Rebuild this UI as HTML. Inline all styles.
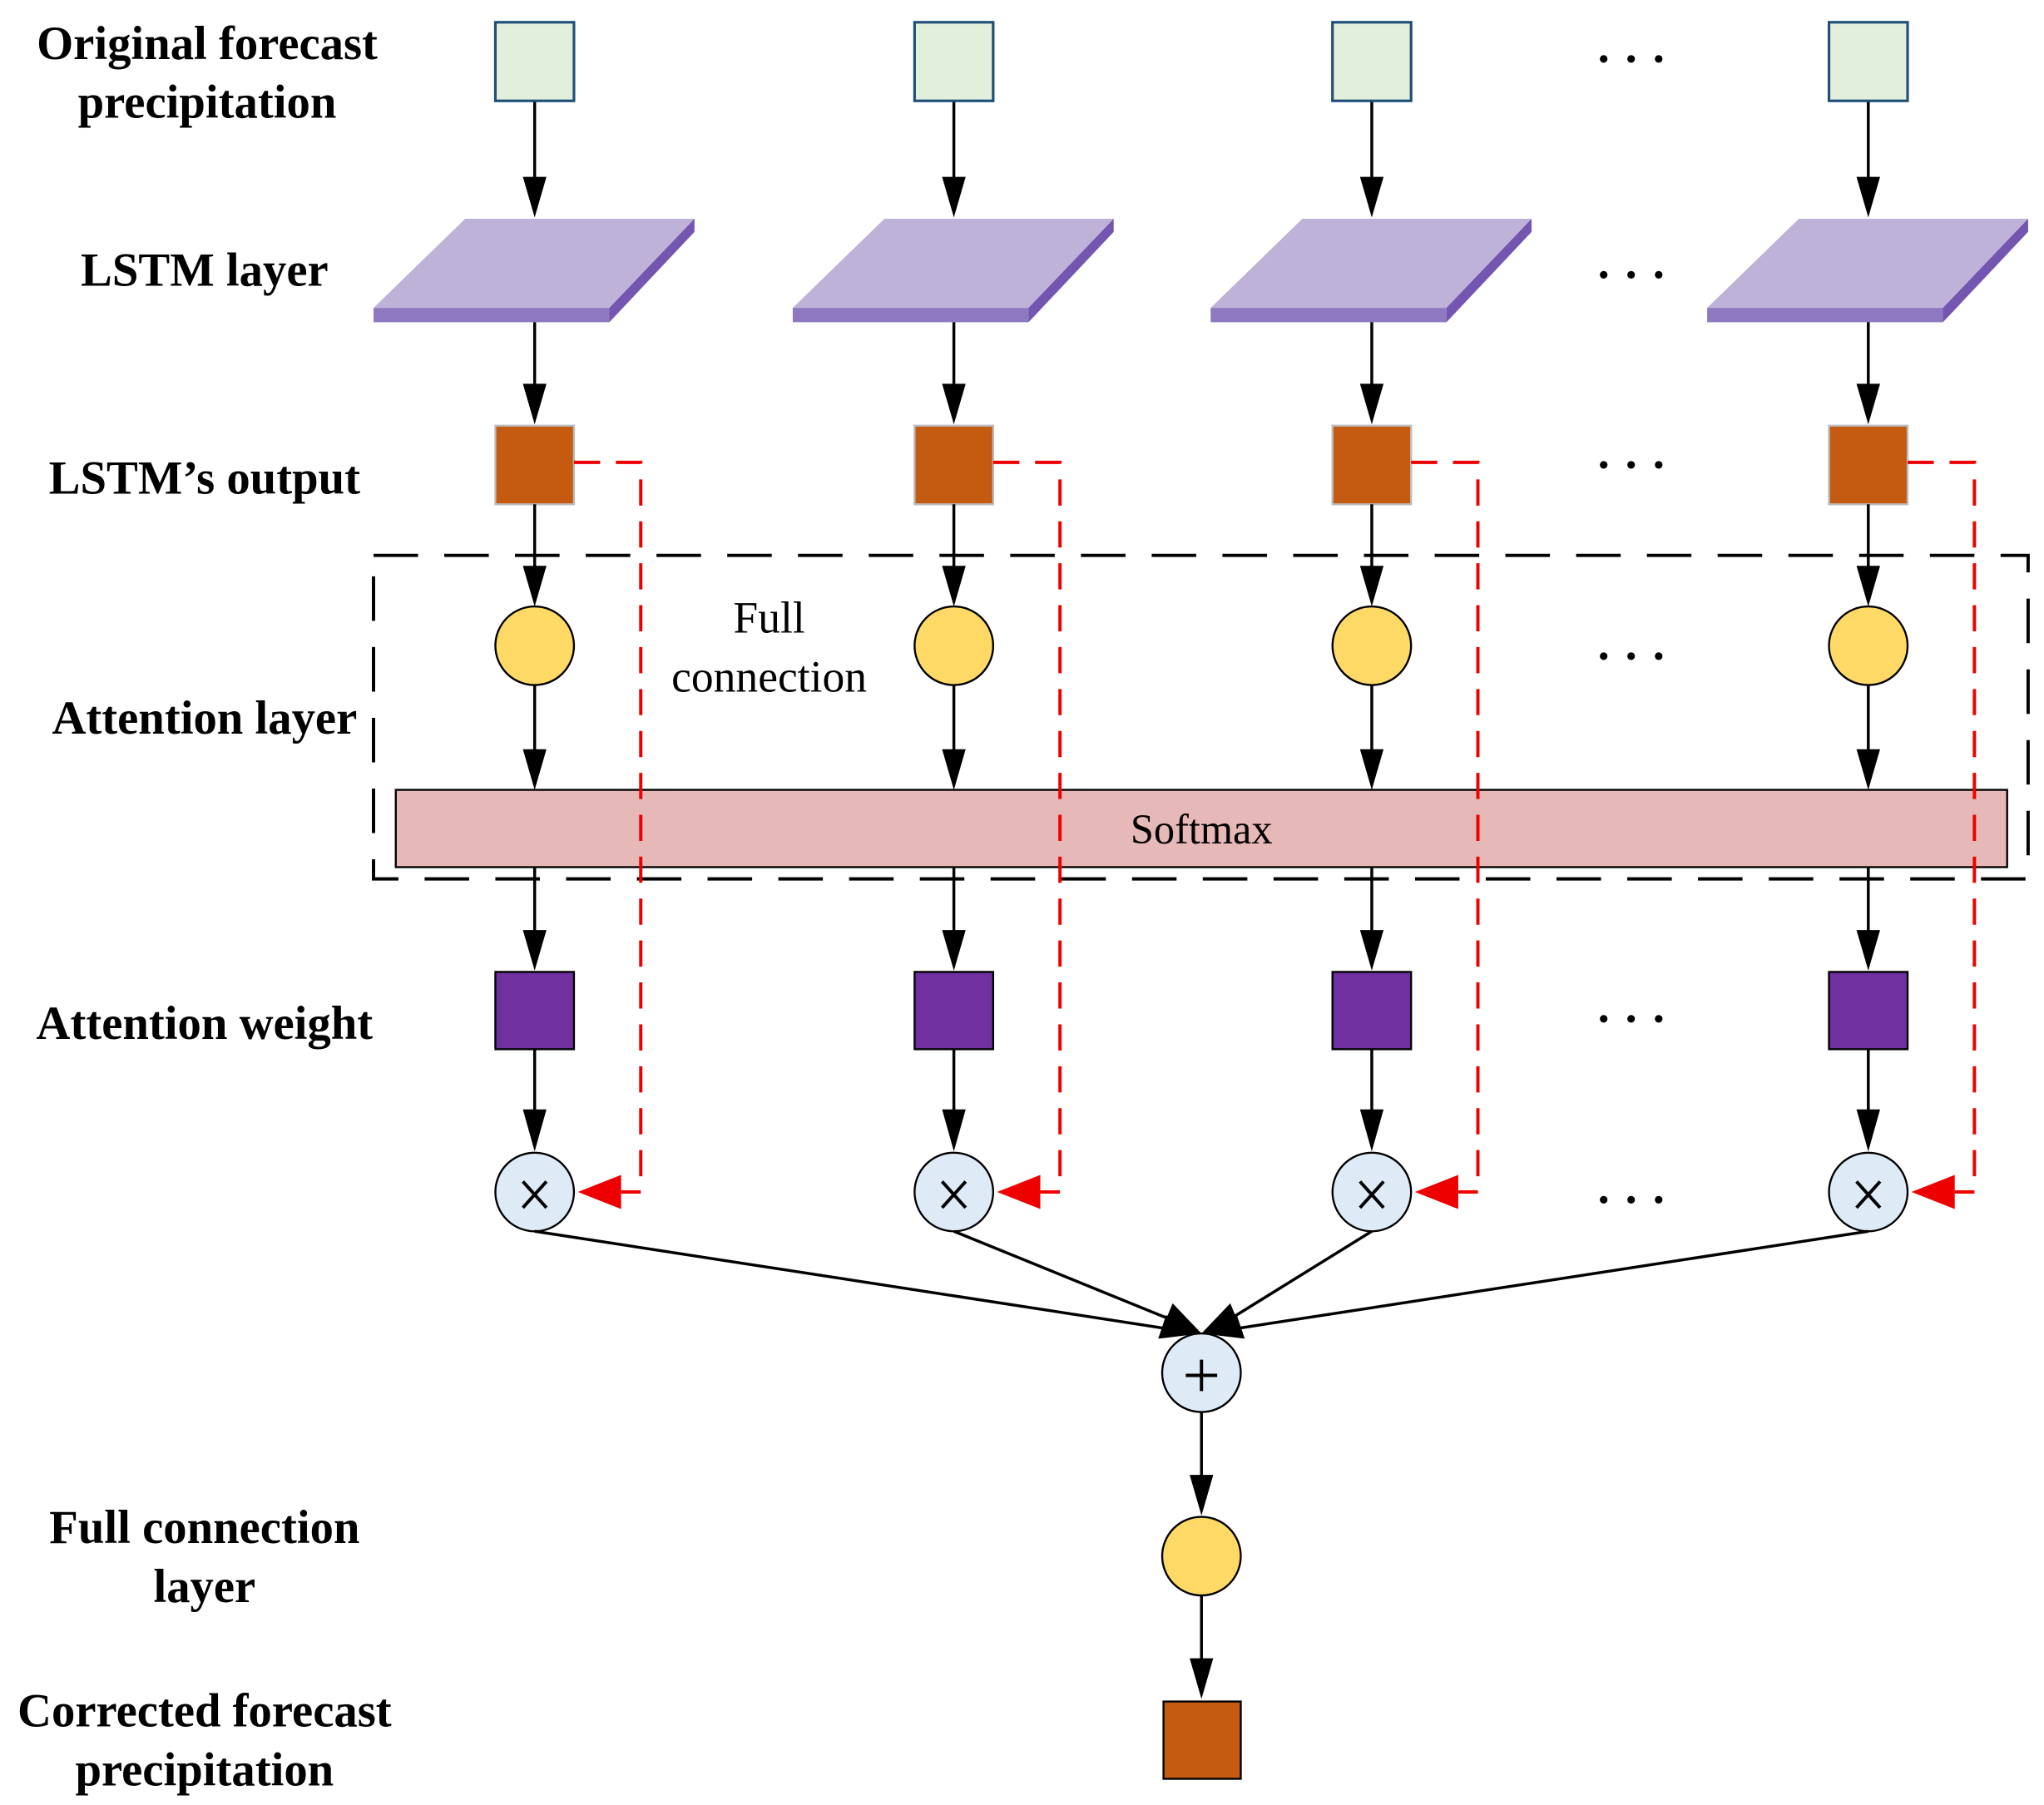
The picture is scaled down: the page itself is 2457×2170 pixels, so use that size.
<!DOCTYPE html>
<html><head><meta charset="utf-8"><style>html,body{margin:0;padding:0;background:#fff}svg{display:block}</style></head>
<body>
<svg width="2457" height="2170" viewBox="0 0 1560 1378" xmlns="http://www.w3.org/2000/svg" font-family="Liberation Serif, serif">
<g font-weight="bold" font-size="36" text-anchor="middle" fill="#000">
<text x="158" y="45">Original forecast</text>
<text x="158" y="90">precipitation</text>
<text x="156" y="218">LSTM layer</text>
<text x="156" y="377">LSTM’s output</text>
<text x="156" y="560">Attention layer</text>
<text x="156" y="793">Attention weight</text>
<text x="156" y="1178">Full connection</text>
<text x="156" y="1223">layer</text>
<text x="156" y="1318">Corrected forecast</text>
<text x="156" y="1363">precipitation</text>
</g>
<g font-size="34" text-anchor="middle">
<text x="587" y="483">Full</text>
<text x="587" y="528">connection</text>
</g>
<g font-size="36" text-anchor="middle" font-weight="bold">
<text x="1245" y="57">· · ·</text>
<text x="1245" y="222">· · ·</text>
<text x="1245" y="367">· · ·</text>
<text x="1245" y="513">· · ·</text>
<text x="1245" y="790">· · ·</text>
<text x="1245" y="928">· · ·</text>
</g>
<rect x="302" y="603" width="1230" height="59" fill="#e6b8b7" stroke="#000" stroke-width="1.5"/>
<text x="917" y="644" font-size="32" text-anchor="middle">Softmax</text>
<rect x="285" y="424" width="1263" height="247" fill="none" stroke="#000" stroke-width="2.5" stroke-dasharray="34,20"/>
<g id="c1" transform="translate(408,0)">
<line x1="0" y1="77" x2="0" y2="140" stroke="#000" stroke-width="2.2"/><polygon points="-9,135 9,135 0,166" fill="#000"/>
<rect x="-30" y="17" width="60" height="60" fill="#e2efda" stroke="#1f4e79" stroke-width="2"/>
<polygon points="-123,235 57,235 122,167 -53,167" fill="#bfb2d9"/>
<polygon points="-123,235 57,235 57,246 -123,246" fill="#8e78c0"/>
<polygon points="57,235 122,167 122,177 57,246" fill="#7455b0"/>
<line x1="0" y1="246" x2="0" y2="298" stroke="#000" stroke-width="2.2"/><polygon points="-9,293 9,293 0,324" fill="#000"/>
<rect x="-30" y="325" width="60" height="60" fill="#c55a11" stroke="#bbb" stroke-width="1.5"/>
<line x1="0" y1="385" x2="0" y2="437" stroke="#000" stroke-width="2.2"/><polygon points="-9,432 9,432 0,463" fill="#000"/>
<circle cx="0" cy="493" r="30" fill="#ffd966" stroke="#000" stroke-width="1.5"/>
<line x1="0" y1="523" x2="0" y2="577" stroke="#000" stroke-width="2.2"/><polygon points="-9,572 9,572 0,603" fill="#000"/>
<line x1="0" y1="662" x2="0" y2="715" stroke="#000" stroke-width="2.2"/><polygon points="-9,710 9,710 0,741" fill="#000"/>
<rect x="-30" y="742" width="60" height="59" fill="#7030a0" stroke="#000" stroke-width="1.5"/>
<line x1="0" y1="801" x2="0" y2="852" stroke="#000" stroke-width="2.2"/><polygon points="-9,847 9,847 0,879" fill="#000"/>
<polyline points="30,353 81,353 81,910 66,910" fill="none" stroke="#e00" stroke-width="2.5" stroke-dasharray="20,12"/>
<polygon points="33,910 66,897 66,923" fill="#e00"/>
<circle cx="0" cy="910" r="30" fill="#deebf7" stroke="#000" stroke-width="1.5"/>
<path d="M-9,-10 L9,10 M9,-10 L-9,10" transform="translate(0,912)" stroke="#000" stroke-width="2.5"/>
</g>
<use href="#c1" transform="translate(320,0)"/>
<use href="#c1" transform="translate(639,0)"/>
<use href="#c1" transform="translate(1018,0)"/>
<g stroke="#000" stroke-width="2.2">
<line x1="408" y1="940" x2="895" y2="1015"/>
<line x1="728" y1="940" x2="900" y2="1010"/>
<line x1="1047" y1="940" x2="934" y2="1010"/>
<line x1="1426" y1="940" x2="939" y2="1015"/>
</g>
<polygon points="917,1018 884,1022 890,1004" fill="#000"/>
<polygon points="917,1018 895,995 888,1012" fill="#000"/>
<polygon points="917,1018 939,995 946,1012" fill="#000"/>
<polygon points="917,1018 950,1022 944,1004" fill="#000"/>
<circle cx="917" cy="1048" r="30" fill="#deebf7" stroke="#000" stroke-width="1.5"/>
<path d="M905,1050 H929 M917,1038 V1062" stroke="#000" stroke-width="2.5"/>
<line x1="917" y1="1078" x2="917" y2="1130" stroke="#000" stroke-width="2.2"/><polygon points="908,1126 926,1126 917,1157" fill="#000"/>
<circle cx="917" cy="1188" r="30" fill="#ffd966" stroke="#000" stroke-width="1.5"/>
<line x1="917" y1="1218" x2="917" y2="1270" stroke="#000" stroke-width="2.2"/><polygon points="908,1266 926,1266 917,1297" fill="#000"/>
<rect x="888" y="1299" width="59" height="59" fill="#c55a11" stroke="#000" stroke-width="1.5"/>
</svg>
</body></html>
